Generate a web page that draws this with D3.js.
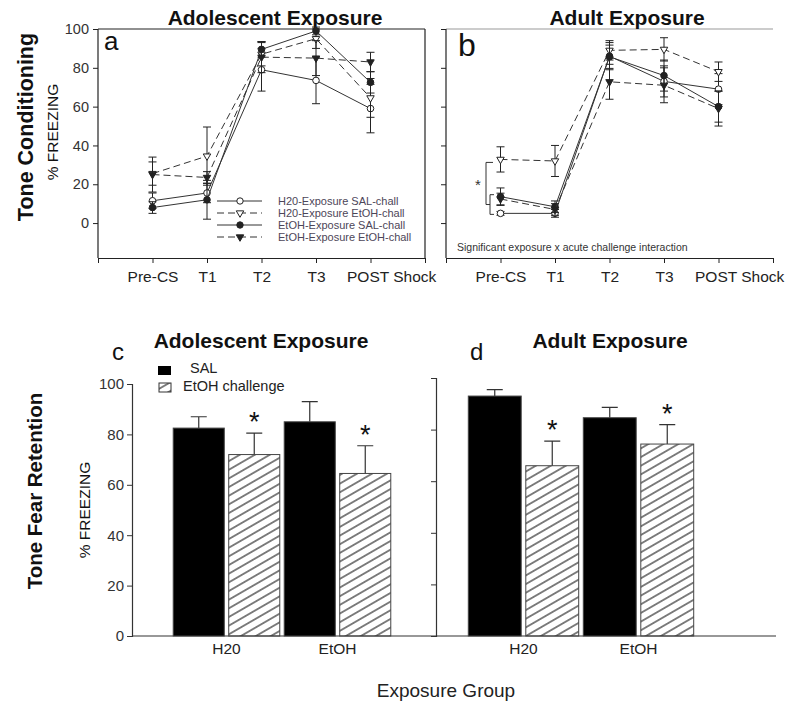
<!DOCTYPE html>
<meta charset="utf-8">
<title>Tone conditioning and fear retention</title>
<script src="https://d3js.org/d3.v7.min.js"></script>
<style>
  body { margin: 0; background: #fff; }
  text { font-family: "Liberation Sans", Arial, sans-serif; }
</style>
<body>
<div id="chart"></div>
<script>
// ---- data ----
var timepoints = ["Pre-CS", "T1", "T2", "T3", "POST Shock"];
var seriesNames = ["H20-Exposure SAL-chall", "H20-Exposure EtOH-chall",
                   "EtOH-Exposure SAL-chall", "EtOH-Exposure EtOH-chall"];

// panel a: adolescent exposure, tone conditioning
var adolH2oSal      = [11.5, 15.5, 79, 73.5, 59];
var adolH2oSalErr   = [4, 5, 11, 12, 12.5];
var adolH2oEtoh     = [25.5, 34.5, 87, 95, 64.5];
var adolH2oEtohErr  = [6, 15, 6, 5, 10];
var adolEtohSal     = [8, 12, 89.5, 99, 72.5];
var adolEtohSalErr  = [3, 10, 4, 2, 5.5];
var adolEtohEtoh    = [25, 23.5, 85.5, 85, 83];
var adolEtohEtohErr = [9, 3, 8, 9, 5];

// panel b: adult exposure, tone conditioning
var adultH2oSal      = [5, 5, 86, 73, 69];
var adultH2oSalErr   = [1, 2, 7, 8, 8];
var adultH2oEtoh     = [32.8, 32, 89, 89.5, 78];
var adultH2oEtohErr  = [6.5, 8, 5, 6, 5];
var adultEtohSal     = [13.6, 8.4, 85.7, 76, 60];
var adultEtohSalErr  = [4.5, 3, 6, 8, 8];
var adultEtohEtoh    = [12.4, 7, 72.8, 71, 59];
var adultEtohEtohErr = [3, 3, 9, 9, 9];

var yTicksTop = [0, 20, 40, 60, 80, 100];

// panels c, d: tone fear retention
var groups = ["H20", "EtOH"];
var challenges = ["SAL", "EtOH challenge"];
var adolSal        = [82.5, 85];
var adolSalErr     = [4.5, 8];
var adolEtohCh     = [72, 64.5];
var adolEtohChErr  = [8.5, 11];
var adultSal       = [93, 84.6];
var adultSalErr    = [2.5, 4];
var adultEtohCh    = [66, 74.4];
var adultEtohChErr = [9.5, 7.5];
var yTicksBottom = [0, 20, 40, 60, 80, 100];

// ---- svg ----
var W = 791, H = 713;
var svg = d3.select("#chart").append("svg")
  .attr("width", W).attr("height", H);

var defs = svg.append("defs");
defs.append("pattern")
  .attr("id", "hatch")
  .attr("patternUnits", "userSpaceOnUse")
  .attr("width", 10).attr("height", 7.5)
  .attr("patternTransform", "rotate(-30)")
  .append("line")
    .attr("x1", 0).attr("x2", 10)
    .attr("y1", 3.75).attr("y2", 3.75)
    .attr("stroke", "#1a1a1a").attr("stroke-width", 1.1);

var ink = "#222";

// row labels
function sideLabel(x, y, txt, size, weight) {
  svg.append("text")
    .attr("transform", "translate(" + x + "," + y + ") rotate(-90)")
    .attr("text-anchor", "middle")
    .attr("dy", "0.35em")
    .attr("font-size", size)
    .attr("font-weight", weight)
    .attr("fill", "#111")
    .text(txt);
}
sideLabel(25, 127, "Tone Conditioning", "21.5px", "bold");
sideLabel(53, 132, "% FREEZING", "15.5px", "normal");
sideLabel(35, 491, "Tone Fear Retention", "20.5px", "bold");
sideLabel(85, 510, "% FREEZING", "15.5px", "normal");

// ---- line panels ----
var triDown = d3.symbol().type(d3.symbolTriangle).size(24);

function linePanel(opt) {
  var x = d3.scaleLinear().domain([-1, 5]).range([opt.x0, opt.x1]);
  var y = d3.scaleLinear().domain([-18, 100]).range([258, 29]);
  var g = svg.append("g");

  // frame
  g.append("line").attr("x1", opt.x0).attr("x2", opt.x1).attr("y1", 29).attr("y2", 29)
    .attr("stroke", opt.frameColor).attr("stroke-width", 1.2);
  if (opt.rightFrame) {
    g.append("line").attr("x1", opt.x1).attr("x2", opt.x1).attr("y1", 29).attr("y2", 258)
      .attr("stroke", opt.frameColor).attr("stroke-width", 1.2);
  }

  // axes
  var ya = d3.axisLeft(y).tickValues(yTicksTop).tickSize(5).tickSizeOuter(0)
    .tickFormat(opt.yLabels ? d3.format("d") : function() { return ""; });
  var yg = g.append("g").attr("transform", "translate(" + opt.x0 + ",0)").call(ya);
  yg.select(".domain").attr("d", "M0,29V258").attr("stroke", ink).attr("stroke-width", 1.2);
  yg.selectAll(".tick line").attr("stroke", ink);
  yg.selectAll(".tick text").attr("font-size", "14.5px").attr("fill", "#333").attr("dx", "-1");

  var xa = d3.axisBottom(x).tickValues([-1, 0, 1, 2, 3, 4, 5]).tickSize(5).tickSizeOuter(0)
    .tickFormat(function(d) { return timepoints[d] || ""; });
  var xg = g.append("g").attr("transform", "translate(0,258)").call(xa);
  xg.select(".domain").attr("stroke", ink).attr("stroke-width", 1.2);
  xg.selectAll(".tick line").attr("stroke", ink);
  xg.selectAll(".tick text").attr("font-size", "15.5px").attr("fill", "#222").attr("dy", "1.05em");
  xg.selectAll(".tick text").filter(function(d) { return d === 4; })
    .attr("text-anchor", "start").attr("dx", "-24");

  // title and letter
  g.append("text").attr("x", opt.titleX).attr("y", 25)
    .attr("text-anchor", "middle").attr("font-size", "21px").attr("font-weight", "bold")
    .attr("fill", "#111").text(opt.title);
  g.append("text").attr("x", opt.letterX).attr("y", opt.letterY)
    .attr("font-size", opt.letterSize).attr("fill", "#111").text(opt.letter);

  var styles = [
    {dash: null, fill: "#fff", sym: "circle"},
    {dash: "7,4", fill: "#fff", sym: "tri"},
    {dash: null, fill: ink, sym: "circle"},
    {dash: "7,4", fill: ink, sym: "tri"}
  ];

  var line = d3.line().x(function(d, i) { return x(i); }).y(function(d) { return y(d); });

  opt.series.forEach(function(s, k) {
    var st = styles[k];
    var sg = g.append("g");
    sg.append("path").datum(s.mean)
      .attr("d", line).attr("fill", "none")
      .attr("stroke", "#333").attr("stroke-width", 1)
      .attr("stroke-dasharray", st.dash);
    // error bars
    s.mean.forEach(function(m, i) {
      var cx = x(i), top = y(m + s.err[i]), bot = y(m - s.err[i]);
      sg.append("path")
        .attr("d", "M" + cx + "," + top + "V" + bot +
                   "M" + (cx - 4) + "," + top + "H" + (cx + 4) +
                   "M" + (cx - 4) + "," + bot + "H" + (cx + 4))
        .attr("stroke", ink).attr("stroke-width", 1).attr("fill", "none");
    });
    s.mean.forEach(function(m, i) {
      if (st.sym === "circle") {
        sg.append("circle").attr("cx", x(i)).attr("cy", y(m)).attr("r", 3.3)
          .attr("fill", st.fill).attr("stroke", ink).attr("stroke-width", 1);
      } else {
        sg.append("path").attr("d", triDown)
          .attr("transform", "translate(" + x(i) + "," + y(m) + ") rotate(180)")
          .attr("fill", st.fill).attr("stroke", ink).attr("stroke-width", 1);
      }
    });
  });

  if (opt.legend) {
    var lg = g.append("g");
    seriesNames.forEach(function(name, k) {
      var st = styles[k], ly = 201 + k * 12;
      lg.append("line").attr("x1", 217).attr("x2", 262).attr("y1", ly).attr("y2", ly)
        .attr("stroke", "#333").attr("stroke-dasharray", st.dash);
      if (st.sym === "circle") {
        lg.append("circle").attr("cx", 240).attr("cy", ly).attr("r", 3.2)
          .attr("fill", st.fill).attr("stroke", ink);
      } else {
        lg.append("path").attr("d", triDown)
          .attr("transform", "translate(240," + ly + ") rotate(180)")
          .attr("fill", st.fill).attr("stroke", ink);
      }
      lg.append("text").attr("x", 278).attr("y", ly).attr("dy", "0.35em")
        .attr("font-size", "11px").attr("fill", "#4d4658").text(name);
    });
  }
  return {x: x, y: y, g: g};
}

linePanel({
  x0: 98, x1: 425, frameColor: ink, rightFrame: true, yLabels: true,
  title: "Adolescent Exposure", titleX: 275, letter: "a", letterX: 104, letterY: 50, letterSize: "26px",
  legend: true,
  series: [
    {mean: adolH2oSal, err: adolH2oSalErr},
    {mean: adolH2oEtoh, err: adolH2oEtohErr},
    {mean: adolEtohSal, err: adolEtohSalErr},
    {mean: adolEtohEtoh, err: adolEtohEtohErr}
  ]
});

var pb = linePanel({
  x0: 446, x1: 773, frameColor: "#9a9a9a", rightFrame: false, yLabels: false,
  title: "Adult Exposure", titleX: 627, letter: "b", letterX: 458, letterY: 56, letterSize: "32px",
  legend: false,
  series: [
    {mean: adultH2oSal, err: adultH2oSalErr},
    {mean: adultH2oEtoh, err: adultH2oEtohErr},
    {mean: adultEtohSal, err: adultEtohSalErr},
    {mean: adultEtohEtoh, err: adultEtohEtohErr}
  ]
});

// significance bracket in panel b
var bTop = pb.y(adultH2oEtoh[0]) + 3, bIn0 = pb.y(adultEtohSal[0]) - 2, bIn1 = pb.y(adultH2oSal[0]) + 1;
var bMid = (bIn0 + bIn1) / 2;
pb.g.append("path")
  .attr("d", "M493," + bTop + "H486V" + bMid + "H490" +
             "M494," + bIn0 + "H490V" + bIn1 + "H494")
  .attr("fill", "none").attr("stroke", "#333").attr("stroke-width", 1);
pb.g.append("text").attr("x", 478).attr("y", 190).attr("text-anchor", "middle")
  .attr("font-size", "15px").attr("fill", "#333").text("*");
pb.g.append("text").attr("x", 457).attr("y", 251)
  .attr("font-size", "10.5px").attr("fill", "#333")
  .text("Significant exposure x acute challenge  interaction");

// ---- bar panels ----
var yBase = 636;

// shared x axis line
svg.append("line").attr("x1", 132).attr("x2", 776).attr("y1", yBase).attr("y2", yBase)
  .attr("stroke", "#333").attr("stroke-width", 1.2);

function barPanel(opt) {
  var y = d3.scaleLinear().domain([0, 100]).range([yBase, opt.yTop]);
  var x0 = d3.scaleBand().domain(groups).range(opt.range);
  var x1 = d3.scaleBand().domain(challenges).range([0, x0.bandwidth()])
    .paddingInner(0.08).paddingOuter(0.04);
  var g = svg.append("g");

  var ya = d3.axisLeft(y).tickValues(yTicksBottom).tickSize(5)
    .tickFormat(opt.yLabels ? d3.format("d") : function() { return ""; });
  var yg = g.append("g").attr("transform", "translate(" + opt.axisX + ",0)").call(ya);
  yg.select(".domain").attr("stroke", "#333").attr("stroke-width", 1.2);
  yg.selectAll(".tick line").attr("stroke", "#333");
  yg.selectAll(".tick text").attr("font-size", "15px").attr("fill", "#333");

  var rows = [];
  groups.forEach(function(grp, i) {
    rows.push({grp: grp, ch: challenges[0], v: opt.sal[i], e: opt.salErr[i], star: false});
    rows.push({grp: grp, ch: challenges[1], v: opt.etoh[i], e: opt.etohErr[i], star: true});
  });

  rows.forEach(function(r) {
    var bx = x0(r.grp) + x1(r.ch), bw = x1.bandwidth();
    var cx = bx + bw / 2, top = y(r.v + r.e);
    g.append("path")
      .attr("d", "M" + cx + "," + y(r.v) + "V" + top + "M" + (cx - 8) + "," + top + "H" + (cx + 8))
      .attr("stroke", "#333").attr("stroke-width", 1.2).attr("fill", "none");
    g.append("rect")
      .attr("x", bx).attr("y", y(r.v))
      .attr("width", bw).attr("height", yBase - y(r.v))
      .attr("fill", r.ch === "SAL" ? "#000" : "url(#hatch)")
      .attr("stroke", "#444").attr("stroke-width", 1);
    if (r.star) {
      g.append("text").attr("x", cx).attr("y", top - 2).attr("text-anchor", "middle")
        .attr("font-size", "27px").attr("fill", "#111").text("*");
    }
  });

  groups.forEach(function(grp) {
    g.append("text").attr("x", x0(grp) + x0.bandwidth() / 2).attr("y", 654)
      .attr("text-anchor", "middle").attr("font-size", "15.5px").attr("fill", "#222").text(grp);
  });

  g.append("text").attr("x", opt.titleX).attr("y", 348)
    .attr("text-anchor", "middle").attr("font-size", "21px").attr("font-weight", "bold")
    .attr("fill", "#111").text(opt.title);
  g.append("text").attr("x", opt.letterX).attr("y", 360)
    .attr("font-size", "24px").attr("fill", "#111").text(opt.letter);
}

barPanel({
  axisX: 132, yTop: 384, range: [171, 393], yLabels: true,
  sal: adolSal, salErr: adolSalErr, etoh: adolEtohCh, etohErr: adolEtohChErr,
  title: "Adolescent Exposure", titleX: 261, letter: "c", letterX: 112
});
barPanel({
  axisX: 436, yTop: 378, range: [466, 696], yLabels: false,
  sal: adultSal, salErr: adultSalErr, etoh: adultEtohCh, etohErr: adultEtohChErr,
  title: "Adult Exposure", titleX: 610, letter: "d", letterX: 470
});

// legend for panel c
var leg = svg.append("g");
leg.append("rect").attr("x", 158).attr("y", 366).attr("width", 13).attr("height", 9).attr("fill", "#000");
leg.append("rect").attr("x", 159).attr("y", 383).attr("width", 12).attr("height", 9)
  .attr("fill", "url(#hatch)").attr("stroke", "#333");
leg.append("text").attr("x", 190).attr("y", 373).attr("font-family", "'Open Sans', sans-serif")
  .attr("font-size", "14.5px").attr("fill", "#222").text(challenges[0]);
leg.append("text").attr("x", 183).attr("y", 391).attr("font-family", "'Open Sans', sans-serif")
  .attr("font-size", "14.5px").attr("fill", "#222").text(challenges[1]);

svg.append("text").attr("x", 446).attr("y", 697).attr("text-anchor", "middle")
  .attr("font-size", "19px").attr("fill", "#222").text("Exposure Group");
</script>
</body>
